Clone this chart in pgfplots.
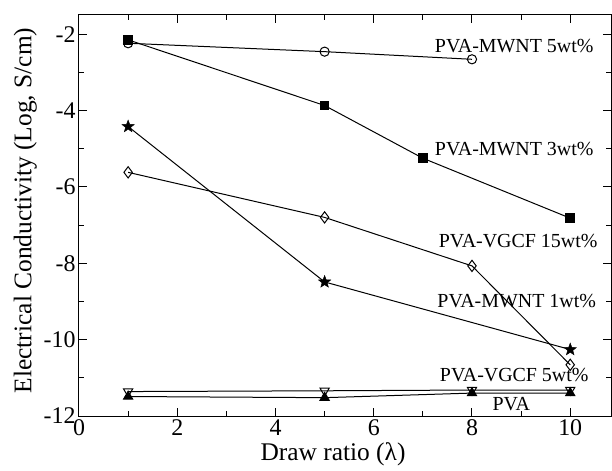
\documentclass[border=0pt]{standalone}
\usepackage{fontspec}
\setmainfont{Liberation Serif}
\usepackage{pgfplots}
\pgfplotsset{compat=1.18}
\pgfdeclareplotmark{fstar}{%
  \pgfpathmoveto{\pgfpointpolar{90}{\pgfplotmarksize}}%
  \pgfpathlineto{\pgfpointpolar{126}{0.42\pgfplotmarksize}}%
  \pgfpathlineto{\pgfpointpolar{162}{\pgfplotmarksize}}%
  \pgfpathlineto{\pgfpointpolar{198}{0.42\pgfplotmarksize}}%
  \pgfpathlineto{\pgfpointpolar{234}{\pgfplotmarksize}}%
  \pgfpathlineto{\pgfpointpolar{270}{0.42\pgfplotmarksize}}%
  \pgfpathlineto{\pgfpointpolar{306}{\pgfplotmarksize}}%
  \pgfpathlineto{\pgfpointpolar{342}{0.42\pgfplotmarksize}}%
  \pgfpathlineto{\pgfpointpolar{18}{\pgfplotmarksize}}%
  \pgfpathlineto{\pgfpointpolar{54}{0.42\pgfplotmarksize}}%
  \pgfpathclose
  \pgfusepathqfillstroke}
\begin{document}
\begin{tikzpicture}
\path[use as bounding box] (-79bp,-55bp) rectangle (533bp,416bp);
\begin{axis}[
  at={(0,0)}, anchor=south west,
  scale only axis,
  width=532bp, height=401bp,
  xmin=0, xmax=10.83, ymin=-12, ymax=-1.5,
  xtick={0,2,...,10}, ytick={-12,-10,...,-2},
  minor x tick num=1, minor y tick num=1,
  tick align=inside,
  major tick length=8bp, minor tick length=5bp,
  axis line style={line width=1bp},
  every tick/.style={line width=1bp, black},
  /pgf/number format/assume math mode=true,
  tick label style={font=\fontsize{24}{28}\selectfont},
  label style={font=\fontsize{25.5}{30}\selectfont},
  xlabel={Draw ratio (λ)},
  ylabel={Electrical Conductivity (Log, S/cm)},
  x label style={xshift=-12bp},
  y label style={xshift=5bp},
  every axis plot/.append style={line width=1bp, black},
  clip=false,
]
% PVA-MWNT 5wt%
\addplot[mark=o, mark size=4.6bp, mark options={fill=white, line width=1bp}] coordinates {(1,-2.24) (5,-2.46) (8,-2.66)};
% PVA-MWNT 3wt%
\addplot[mark=square*, mark size=4.3bp, mark options={fill=black}] coordinates {(1,-2.15) (5,-3.87) (7,-5.25) (10,-6.82)};
% PVA-VGCF 15wt%
\addplot[mark=diamond, mark size=5.6bp, mark options={fill=white, line width=1bp}] coordinates {(1,-5.62) (5,-6.80) (8,-8.07) (10,-10.66)};
% PVA-MWNT 1wt%
\addplot[mark=fstar, mark size=6.5bp, mark options={fill=black, line width=0.4bp}] coordinates {(1,-4.42) (5,-8.49) (10,-10.26)};
% PVA-VGCF 5wt%
\addplot[mark=triangle, mark size=5.3bp, mark options={rotate=180, fill=white, line width=1bp}] coordinates {(1,-11.36) (5,-11.34) (8,-11.32) (10,-11.32)};
% PVA
\addplot[mark=triangle*, mark size=5.3bp, mark options={fill=black}] coordinates {(1,-11.49) (5,-11.52) (8,-11.40) (10,-11.40)};
\node[font=\fontsize{20}{24}\selectfont] at (axis cs:8.86,-2.30) {PVA-MWNT 5wt\%};
\node[font=\fontsize{20}{24}\selectfont] at (axis cs:8.86,-5.00) {PVA-MWNT 3wt\%};
\node[font=\fontsize{20}{24}\selectfont] at (axis cs:8.94,-7.43) {PVA-VGCF 15wt\%};
\node[font=\fontsize{20}{24}\selectfont] at (axis cs:8.91,-9.00) {PVA-MWNT 1wt\%};
\node[font=\fontsize{20}{24}\selectfont] at (axis cs:8.86,-10.92) {PVA-VGCF 5wt\%};
\node[font=\fontsize{20}{24}\selectfont] at (axis cs:8.80,-11.69) {PVA};
\end{axis}
\end{tikzpicture}
\end{document}
